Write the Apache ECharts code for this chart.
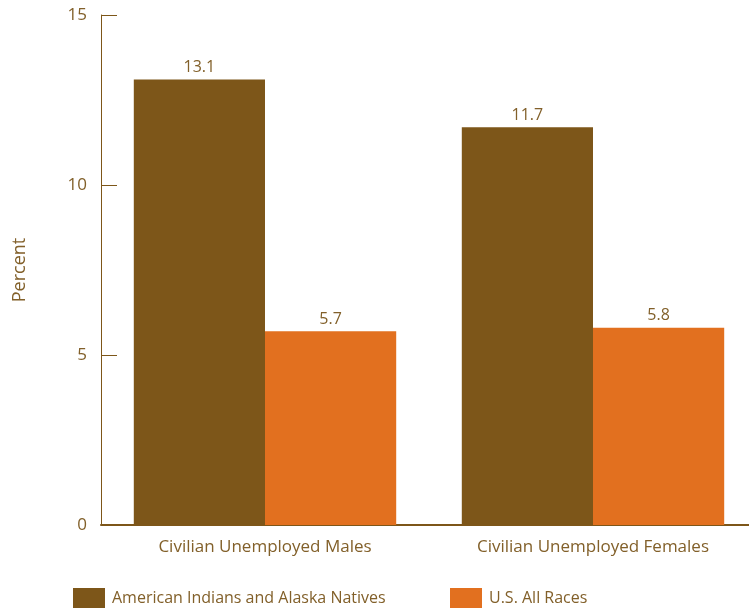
<!DOCTYPE html>
<html><head><meta charset="utf-8">
<script src="https://cdn.jsdelivr.net/npm/echarts@6/dist/echarts.min.js"></script>
<style>html,body{margin:0;padding:0;background:#fff}#c{width:749px;height:608px}</style>
</head><body><div id="c"></div>
<script>
const categories = ["Civilian Unemployed Males", "Civilian Unemployed Females"];
const aian = [13.1, 11.7];
const usAll = [5.7, 5.8];
const seriesNames = ["American Indians and Alaska Natives", "U.S. All Races"];
const brown = "#7d5619", orange = "#e2701f", txt = "#82602a";
const font = "'Open Sans', sans-serif";
const chart = echarts.init(document.getElementById('c'));
chart.setOption({
  animation: false,
  textStyle: {fontFamily: font},
  grid: {left: 101, width: 656, top: 15, bottom: 83, containLabel: false, outerBoundsMode: 'none'},
  legend: [
    {data: [seriesNames[0]], left: 68, top: 583, itemWidth: 32, itemHeight: 21, itemGap: 0,
     textStyle: {color: txt, fontSize: 16, fontFamily: font, padding: [0, 0, 0, 2]}, icon: 'rect', selectedMode: false},
    {data: [seriesNames[1]], left: 445, top: 583, itemWidth: 32, itemHeight: 21, itemGap: 0,
     textStyle: {color: txt, fontSize: 16, fontFamily: font, padding: [0, 0, 0, 2]}, icon: 'rect', selectedMode: false}
  ],
  xAxis: {
    type: 'category', data: categories,
    axisLine: {lineStyle: {color: brown, width: 2}},
    axisTick: {show: false},
    axisLabel: {color: txt, fontSize: 17, margin: 14, fontFamily: font}
  },
  yAxis: {
    type: 'value', min: 0, max: 15, interval: 5,
    name: 'Percent', nameLocation: 'middle', nameGap: 72, nameRotate: 90,
    nameTextStyle: {color: txt, fontSize: 18, fontFamily: font},
    axisLine: {show: true, lineStyle: {color: brown, width: 1}},
    axisTick: {show: true, inside: true, length: 16, lineStyle: {color: brown, width: 1}},
    splitLine: {show: false},
    axisLabel: {color: txt, fontSize: 17, margin: 14, fontFamily: font}
  },
  series: [
    {name: seriesNames[0], type: 'bar', data: aian, barGap: '0%', barCategoryGap: '20%',
     itemStyle: {color: brown},
     label: {show: true, position: 'top', color: txt, fontSize: 16, distance: 4, fontFamily: font}},
    {name: seriesNames[1], type: 'bar', data: usAll,
     itemStyle: {color: orange},
     label: {show: true, position: 'top', color: txt, fontSize: 16, distance: 4, fontFamily: font}}
  ]
});
</script></body></html>
